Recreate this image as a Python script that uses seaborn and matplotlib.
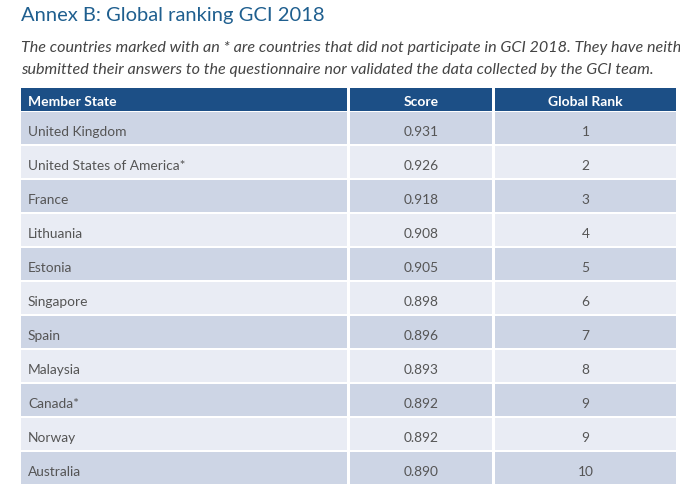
import numpy as np
import pandas as pd
import matplotlib.pyplot as plt
import seaborn as sns

TITLE = "Annex B: Global ranking GCI 2018"
NOTE = ["The countries marked with an * are countries that did not participate in GCI 2018. They have neither",
        "submitted their answers to the questionnaire nor validated the data collected by the GCI team."]

headers = ["Member State", "Score", "Global Rank"]
countries = ["United Kingdom", "United States of America*", "France", "Lithuania", "Estonia",
             "Singapore", "Spain", "Malaysia", "Canada*", "Norway", "Australia"]
scores = [0.931, 0.926, 0.918, 0.908, 0.905, 0.898, 0.896, 0.893, 0.892, 0.892, 0.890]
ranks = [1, 2, 3, 4, 5, 6, 7, 8, 9, 9, 10]

df = pd.DataFrame({"Member State": countries,
                   "Score": [f"{s:.3f}" for s in scores],
                   "Global Rank": [str(r) for r in ranks]})

# layout in pixels (figure is 680x489 at dpi 100)
COL_LEFT = [21, 350, 495]
COL_RIGHT = [347, 492, 676]
HEAD_TOP, HEAD_BOT = 89, 112
ROW_TOP0, ROW_PITCH, ROW_H = 113, 34, 32

NAVY = "#1c4f86"
ROW_DARK = "#cdd5e5"
ROW_LIGHT = "#e9ecf4"
TEXT = "#555555"

sns.set_theme(style="white")
plt.rcParams["font.family"] = ["Lato", "DejaVu Sans"]

fig = plt.figure(figsize=(6.8, 4.89), dpi=100)
ax = fig.add_axes([0, 0, 1, 1])
ax.set_xlim(0, 680)
ax.set_ylim(489, 0)
ax.axis("off")

ax.text(21, 15, TITLE, fontsize=14.5, color="#1f5f8f", va="center", ha="left")
ax.text(21, 48, NOTE[0], fontsize=11.6, color="#444444", style="italic", va="center", ha="left")
ax.text(21, 70, NOTE[1], fontsize=11.6, color="#444444", style="italic", va="center", ha="left")

# header cells
for j, h in enumerate(headers):
    ax.barh((HEAD_TOP + HEAD_BOT) / 2, COL_RIGHT[j] - COL_LEFT[j], height=HEAD_BOT - HEAD_TOP,
            left=COL_LEFT[j], color=NAVY, linewidth=0)
    if j == 0:
        ax.text(COL_LEFT[j] + 7, (HEAD_TOP + HEAD_BOT) / 2 + 1.5, h, color="white", fontsize=10,
                fontweight="bold", va="center", ha="left")
    else:
        ax.text((COL_LEFT[j] + COL_RIGHT[j]) / 2, (HEAD_TOP + HEAD_BOT) / 2 + 1.5, h, color="white",
                fontsize=10, fontweight="bold", va="center", ha="center")

# body cells
for i, row in df.iterrows():
    yc = ROW_TOP0 + ROW_PITCH * i + ROW_H / 2
    fill = ROW_DARK if i % 2 == 0 else ROW_LIGHT
    for j, col in enumerate(headers):
        ax.barh(yc, COL_RIGHT[j] - COL_LEFT[j], height=ROW_H, left=COL_LEFT[j],
                color=fill, linewidth=0)
        if j == 0:
            ax.text(COL_LEFT[j] + 7, yc + 2.5, row[col], color=TEXT, fontsize=9.9,
                    va="center", ha="left")
        else:
            ax.text((COL_LEFT[j] + COL_RIGHT[j]) / 2, yc + 2.5, row[col], color=TEXT, fontsize=9.9,
                    va="center", ha="center")

fig.savefig("out.png", dpi=100)
